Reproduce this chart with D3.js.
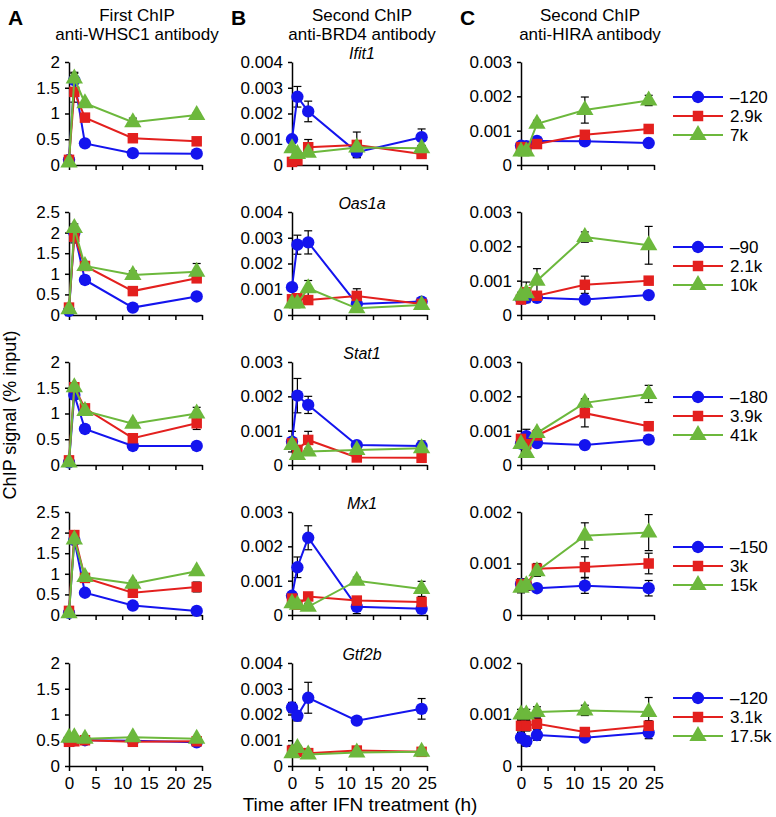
<!DOCTYPE html>
<html>
<head>
<meta charset="utf-8">
<script src="https://cdn.jsdelivr.net/npm/d3@7"></script>
<style>
body { margin: 0; background: #fff; }
svg { font-family: "Liberation Sans", Arial, Helvetica, sans-serif; }
</style>
</head>
<body>
<svg id="chart" width="776" height="817"></svg>
<script>
// time points (h) and axis ticks
const hours = [0, 1, 3, 12, 24];
const xTicks = [0, 5, 10, 15, 20, 25];
const genes = ['Ifit1', 'Oas1a', 'Stat1', 'Mx1', 'Gtf2b'];
const panelLetters = ['A', 'B', 'C'];
const titleLine1 = ['First ChIP', 'Second ChIP', 'Second ChIP'];
const titleLine2 = ['anti-WHSC1 antibody', 'anti-BRD4 antibody', 'anti-HIRA antibody'];
const legendLabels = [
  ['–120', '2.9k', '7k'],
  ['–90', '2.1k', '10k'],
  ['–180', '3.9k', '41k'],
  ['–150', '3k', '15k'],
  ['–120', '3.1k', '17.5k']
];
const yMaxWHSC1 = [2, 2.5, 2, 2.5, 2];
const yMaxBRD4 = [0.004, 0.004, 0.003, 0.003, 0.004];
const yMaxHIRA = [0.003, 0.003, 0.003, 0.002, 0.002];
const yStep = [0.5, 0.001, 0.001];

// values: [blue, red, green] per panel
const whsc1Ifit1 = [[0.1, 1.65, 0.42, 0.23, 0.22], [0.1, 1.42, 0.92, 0.52, 0.46], [0.05, 1.68, 1.2, 0.83, 0.97]];
const whsc1Ifit1Err = [[0, 0.15, 0.03, 0.02, 0.02], [0, 0.2, 0.05, 0.03, 0.03], [0, 0.1, 0.05, 0.08, 0.04]];
const whsc1Oas1a = [[0.1, 1.99, 0.85, 0.18, 0.45], [0.18, 1.9, 1.19, 0.58, 0.89], [0.14, 2.11, 1.19, 0.97, 1.05]];
const whsc1Oas1aErr = [[0, 0.1, 0.1, 0.02, 0.03], [0, 0.15, 0.05, 0.04, 0.07], [0, 0.1, 0.04, 0.1, 0.2]];
const whsc1Stat1 = [[0.05, 1.36, 0.7, 0.37, 0.37], [0.09, 1.51, 1.1, 0.52, 0.81], [0.05, 1.51, 1.05, 0.8, 1.0]];
const whsc1Stat1Err = [[0, 0.08, 0.03, 0.02, 0.02], [0, 0.08, 0.05, 0.04, 0.12], [0, 0.06, 0.04, 0.05, 0.12]];
const whsc1Mx1 = [[0.05, 1.82, 0.54, 0.23, 0.1], [0.1, 1.94, 0.9, 0.54, 0.68], [0.04, 1.83, 0.92, 0.76, 1.06]];
const whsc1Mx1Err = [[0, 0.1, 0.03, 0.02, 0.02], [0, 0.1, 0.05, 0.04, 0.12], [0, 0.08, 0.05, 0.08, 0.05]];
const whsc1Gtf2b = [[0.5, 0.5, 0.5, 0.49, 0.46], [0.47, 0.48, 0.5, 0.47, 0.48], [0.55, 0.56, 0.53, 0.56, 0.53]];
const whsc1Gtf2bErr = [[0.03, 0.03, 0.03, 0.03, 0.03], [0.03, 0.03, 0.03, 0.03, 0.03], [0.03, 0.03, 0.03, 0.03, 0.03]];

const brd4Ifit1 = [[0.001, 0.00265, 0.00208, 0.0005, 0.00108], [0.00012, 0.00018, 0.00069, 0.00078, 0.00043], [0.00065, 0.00043, 0.00048, 0.00068, 0.00065]];
const brd4Ifit1Err = [[0, 0.0004, 0.0004, 0.0002, 0.00032], [0, 0.0001, 0.0003, 0.0005, 0.0001], [0.0001, 0.0001, 0.0001, 0.0002, 0.0001]];
const brd4Oas1a = [[0.00108, 0.00273, 0.00282, 0.00043, 0.00052], [0.00061, 0.00065, 0.00058, 0.00074, 0.00043], [0.00045, 0.00045, 0.00104, 0.00026, 0.00039]];
const brd4Oas1aErr = [[0.0001, 0.00037, 0.00045, 0.0001, 0.0001], [0.0001, 0.0001, 0.0001, 0.00028, 0.0001], [0.0001, 0.0001, 0.0003, 0.0001, 0.0001]];
const brd4Stat1 = [[0.00068, 0.00202, 0.00175, 0.00058, 0.00055], [0.00063, 0.00044, 0.00073, 0.00022, 0.00021], [0.00058, 0.00029, 0.00039, 0.00044, 0.00049]];
const brd4Stat1Err = [[0.0003, 0.0005, 0.00025, 0.0001, 0.00015], [0.0001, 0.0001, 0.00025, 0.00005, 0.00005], [0.0001, 0.00005, 0.00005, 0.00005, 0.0001]];
const brd4Mx1 = [[0.00056, 0.00139, 0.00225, 0.00024, 0.00018], [0.00048, 0.0003, 0.00054, 0.00042, 0.00038], [0.00034, 0.0003, 0.00024, 0.001, 0.00076]];
const brd4Mx1Err = [[0.0001, 0.0003, 0.00035, 0.0002, 0.00005], [0.0002, 0.0001, 0.0001, 0.0001, 0.0001], [0.0001, 0.0001, 0.0001, 0.0001, 0.00022]];
const brd4Gtf2b = [[0.00227, 0.00195, 0.00265, 0.00176, 0.00222], [0.0006, 0.00055, 0.0005, 0.0006, 0.00055], [0.0005, 0.0007, 0.00045, 0.00052, 0.00055]];
const brd4Gtf2bErr = [[0.0002, 0.0002, 0.0006, 0.0001, 0.0004], [0.0002, 0.0001, 0.0001, 0.0001, 0.0001], [0.0001, 0.0001, 0.0001, 0.0001, 0.0001]];

const hiraIfit1 = [[0.00056, 0.00055, 0.0007, 0.00069, 0.00064], [0.00052, 0.0005, 0.00061, 0.00088, 0.00105], [0.00039, 0.00039, 0.0012, 0.0016, 0.00188]];
const hiraIfit1Err = [[0.0001, 0.00005, 0.00005, 0.00005, 0.00005], [0.00005, 0.00005, 0.00005, 0.00005, 0.00005], [0.00005, 0.00005, 0.0001, 0.00038, 0.00015]];
const hiraOas1a = [[0.00047, 0.0005, 0.0005, 0.00045, 0.00058], [0.00045, 0.00066, 0.00056, 0.00088, 0.001], [0.00056, 0.00063, 0.001, 0.00227, 0.00203]];
const hiraOas1aErr = [[0.0001, 0.0001, 0.00005, 0.00005, 0.00005], [0.0001, 0.0003, 0.0001, 0.00025, 0.00005], [0.0001, 0.0001, 0.00035, 0.00015, 0.00055]];
const hiraStat1 = [[0.00062, 0.00084, 0.00064, 0.00058, 0.00074], [0.00076, 0.00061, 0.00086, 0.00151, 0.00113], [0.00061, 0.00035, 0.00093, 0.00181, 0.00207]];
const hiraStat1Err = [[0.0001, 0.0002, 0.00005, 0.00005, 0.00005], [0.0001, 0.0001, 0.00005, 0.0004, 0.00012], [0.0001, 0.0001, 0.0001, 0.00012, 0.00025]];
const hiraMx1 = [[0.0006, 0.00058, 0.00052, 0.00057, 0.00052], [0.0006, 0.00058, 0.0009, 0.00093, 0.001], [0.00053, 0.00058, 0.00085, 0.00154, 0.0016]];
const hiraMx1Err = [[0.0001, 0.0001, 0.00005, 0.00015, 0.00015], [0.0001, 0.0001, 0.0001, 0.0002, 0.0002], [0.0001, 0.0001, 0.0001, 0.00025, 0.00035]];
const hiraGtf2b = [[0.00055, 0.00048, 0.0006, 0.00055, 0.00065], [0.00078, 0.00078, 0.00082, 0.00066, 0.00078], [0.001, 0.001, 0.00105, 0.00108, 0.00105]];
const hiraGtf2bErr = [[0.0001, 0.0001, 0.0001, 0.00005, 0.00012], [0.0001, 0.0001, 0.0001, 0.00005, 0.0001], [0.0001, 0.0001, 0.0001, 0.0001, 0.00028]];

// layout
const colors = ['#1414ee', '#e3201e', '#6cb83c'];
const shapes = [d3.symbolCircle, d3.symbolSquare, d3.symbolTriangle];
const shapeSize = [120, 110, 130];
const colX = [[69, 202], [292, 427], [521, 654]];
const colCenter = [137, 362, 590];
const rowTop = [62, 212, 362, 512, 663];
const plotH = 103;

const panels = [
  [whsc1Ifit1, whsc1Oas1a, whsc1Stat1, whsc1Mx1, whsc1Gtf2b],
  [brd4Ifit1, brd4Oas1a, brd4Stat1, brd4Mx1, brd4Gtf2b],
  [hiraIfit1, hiraOas1a, hiraStat1, hiraMx1, hiraGtf2b]
];
const panelErrs = [
  [whsc1Ifit1Err, whsc1Oas1aErr, whsc1Stat1Err, whsc1Mx1Err, whsc1Gtf2bErr],
  [brd4Ifit1Err, brd4Oas1aErr, brd4Stat1Err, brd4Mx1Err, brd4Gtf2bErr],
  [hiraIfit1Err, hiraOas1aErr, hiraStat1Err, hiraMx1Err, hiraGtf2bErr]
];
const yMaxes = [yMaxWHSC1, yMaxBRD4, yMaxHIRA];

let svg = d3.select('#chart');

// column headers
panelLetters.forEach((l, c) => {
  svg.append('text').attr('x', colX[c][0] - 61).attr('y', 25)
    .attr('font-size', 21).attr('font-weight', 'bold').text(l);
  svg.append('text').attr('x', colCenter[c]).attr('y', 21)
    .attr('text-anchor', 'middle').attr('font-size', 17).text(titleLine1[c]);
  svg.append('text').attr('x', colCenter[c]).attr('y', 40)
    .attr('text-anchor', 'middle').attr('font-size', 17).text(titleLine2[c]);
});

let fmtA = d3.format('~g');
let fmtB = (d) => d === 0 ? '0' : d3.format('.3f')(d);

for (let c = 0; c < 3; c++) {
  for (let r = 0; r < 5; r++) {
    let top = rowTop[r];
    let bottom = top + plotH;
    let ymax = yMaxes[c][r];
    let x = d3.scaleLinear().domain([0, 25]).range(colX[c]);
    let y = d3.scaleLinear().domain([0, ymax]).range([bottom, top]);
    let g = svg.append('g');

    let yt = d3.range(0, ymax + yStep[c] / 2, yStep[c]);
    g.append('g').attr('transform', `translate(${colX[c][0]},0)`)
      .call(d3.axisLeft(y).tickValues(yt).tickSize(4).tickSizeOuter(0).tickPadding(5)
        .tickFormat(c === 0 ? fmtA : fmtB))
      .call(a => a.selectAll('text').attr('font-size', 17).attr('font-family', null).attr('fill', '#000'))
      .call(a => a.selectAll('line,path').attr('stroke', '#000').attr('stroke-width', 1.5));

    g.append('g').attr('transform', `translate(0,${bottom})`)
      .call(d3.axisBottom(x).tickValues(xTicks).tickSize(5).tickSizeOuter(0).tickPadding(6)
        .tickFormat(r === 4 ? d3.format('d') : ''))
      .call(a => a.selectAll('text').attr('font-size', 17).attr('font-family', null).attr('fill', '#000'))
      .call(a => a.selectAll('line,path').attr('stroke', '#000').attr('stroke-width', 1.5));

    if (c === 1) {
      svg.append('text').attr('x', colCenter[1]).attr('y', top - 3)
        .attr('text-anchor', 'middle').attr('font-size', 16).attr('font-style', 'italic')
        .text(genes[r]);
    }

    let vals = panels[c][r];
    let errs = panelErrs[c][r];
    vals.forEach((series, s) => {
      // error bars
      series.forEach((v, i) => {
        let e = errs[s][i];
        if (!e) return;
        let px = x(hours[i]);
        g.append('line').attr('x1', px).attr('x2', px)
          .attr('y1', y(v - e)).attr('y2', y(v + e))
          .attr('stroke', '#000').attr('stroke-width', 1.2);
        [v - e, v + e].forEach((ev) => {
          g.append('line').attr('x1', px - 4).attr('x2', px + 4)
            .attr('y1', y(ev)).attr('y2', y(ev))
            .attr('stroke', '#000').attr('stroke-width', 1.2);
        });
      });
    });
    vals.forEach((series, s) => {
      g.append('path')
        .datum(series)
        .attr('d', d3.line().x((d, i) => x(hours[i])).y((d) => y(d)))
        .attr('fill', 'none').attr('stroke', colors[s]).attr('stroke-width', 2);
      g.selectAll(null).data(series).enter().append('path')
        .attr('d', d3.symbol().type(shapes[s]).size(shapeSize[s]))
        .attr('transform', (d, i) => `translate(${x(hours[i])},${y(d)})`)
        .attr('fill', colors[s]);
    });

    if (c === 2) {
      legendLabels[r].forEach((lab, s) => {
        let ly = top + 35 + s * 19;
        svg.append('line').attr('x1', 673).attr('x2', 723).attr('y1', ly).attr('y2', ly)
          .attr('stroke', colors[s]).attr('stroke-width', 2);
        svg.append('path').attr('d', d3.symbol().type(shapes[s]).size(shapeSize[s]))
          .attr('transform', `translate(698,${ly})`).attr('fill', colors[s]);
        svg.append('text').attr('x', 730).attr('y', ly + 6).attr('font-size', 17).text(lab);
      });
    }
  }
}

// axis titles
svg.append('text').attr('transform', 'translate(16,415) rotate(-90)')
  .attr('text-anchor', 'middle').attr('font-size', 18).text('ChIP signal (% input)');
svg.append('text').attr('x', 360).attr('y', 811)
  .attr('text-anchor', 'middle').attr('font-size', 19).text('Time after IFN treatment (h)');
</script>
</body>
</html>
